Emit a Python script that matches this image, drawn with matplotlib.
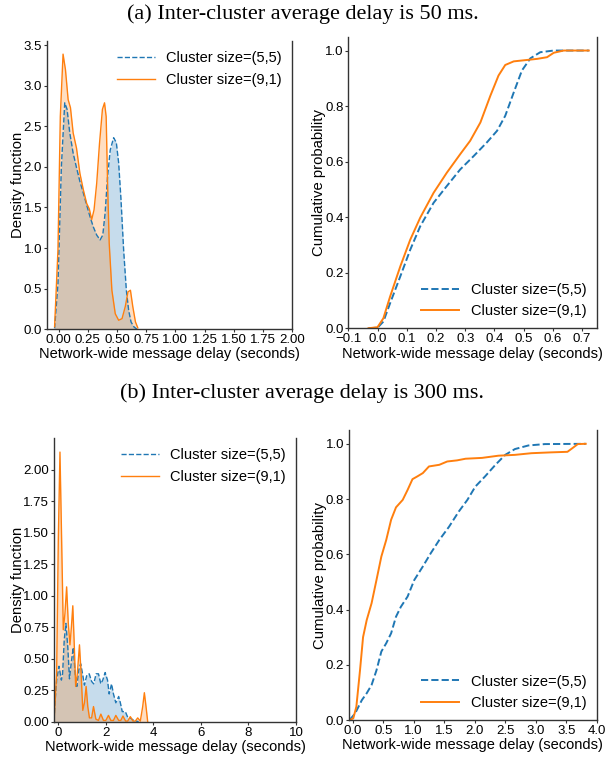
import numpy as np
import matplotlib.pyplot as plt

plt.rcParams['font.family'] = ['Liberation Sans', 'DejaVu Sans']

labels = ['Cluster size=(5,5)', 'Cluster size=(9,1)']

# (a) 50 ms - density
pdf_a_x55 = [-0.035, -0.006, 0.023, 0.052, 0.072, 0.095, 0.124, 0.153, 0.182, 0.211, 0.24,
             0.268, 0.297, 0.326, 0.355, 0.378, 0.398, 0.419, 0.442, 0.471, 0.494, 0.514,
             0.534, 0.557, 0.58, 0.6, 0.62, 0.644, 0.67]
pdf_a_y55 = [0.01, 0.56, 2.0, 2.79, 2.71, 2.42, 2.17, 1.99, 1.82, 1.68, 1.53,
             1.39, 1.26, 1.16, 1.10, 1.16, 1.43, 1.88, 2.21, 2.36, 2.30, 2.05,
             1.60, 0.97, 0.48, 0.23, 0.09, 0.03, 0.0]
pdf_a_x91 = [-0.035, -0.006, 0.014, 0.0375, 0.058, 0.081, 0.101, 0.124, 0.153, 0.182, 0.211,
             0.24, 0.263, 0.283, 0.303, 0.326, 0.35, 0.375, 0.393, 0.407, 0.419, 0.433,
             0.456, 0.485, 0.514, 0.543, 0.571, 0.594, 0.615, 0.635, 0.658, 0.678]
pdf_a_y91 = [0.03, 0.98, 2.62, 3.39, 3.2, 2.83, 2.73, 2.42, 2.23, 1.92, 1.72,
             1.55, 1.48, 1.35, 1.47, 1.80, 2.29, 2.71, 2.79, 2.62, 1.80, 1.06,
             0.48, 0.19, 0.11, 0.13, 0.28, 0.46, 0.48, 0.28, 0.09, 0.017]

# (a) 50 ms - cdf
cdf_a_x55 = [-0.031, 0.0, 0.02, 0.043, 0.078, 0.112, 0.146, 0.192, 0.237, 0.283, 0.329, 0.374,
             0.409, 0.437, 0.466, 0.494, 0.523, 0.557, 0.603, 0.723]
cdf_a_y55 = [0.0, 0.002, 0.024, 0.09, 0.187, 0.283, 0.367, 0.452, 0.512, 0.572, 0.62, 0.669,
             0.711, 0.765, 0.849, 0.928, 0.972, 0.994, 1.0, 1.0]
cdf_a_x91 = [-0.031, 0.0, 0.02, 0.043, 0.078, 0.112, 0.146, 0.192, 0.237, 0.283, 0.317, 0.352,
             0.386, 0.414, 0.437, 0.466, 0.511, 0.546, 0.58, 0.603, 0.637, 0.723]
cdf_a_y91 = [0.0, 0.004, 0.036, 0.114, 0.223, 0.319, 0.398, 0.488, 0.56, 0.627, 0.675, 0.741,
             0.837, 0.91, 0.948, 0.961, 0.966, 0.97, 0.976, 0.992, 1.0, 1.0]

# (b) 300 ms - density
pdf_b_x55 = [-0.18, -0.14, -0.07, 0.03, 0.13, 0.18, 0.25, 0.32, 0.4, 0.47, 0.54, 0.63, 0.71,
             0.78, 0.86, 0.94, 1.02, 1.1, 1.2, 1.3, 1.4, 1.49, 1.59, 1.69, 1.79, 1.87, 1.97,
             2.07, 2.14, 2.24, 2.32, 2.42, 2.54, 2.61, 2.69, 2.82, 2.93, 3.03, 3.17, 3.38]
pdf_b_y55 = [0.01, 0.15, 0.33, 0.44, 0.33, 0.38, 0.65, 0.78, 0.59, 0.34, 0.46, 0.59, 0.38,
             0.28, 0.41, 0.46, 0.38, 0.29, 0.37, 0.38, 0.32, 0.3, 0.38, 0.38, 0.3, 0.33, 0.39,
             0.33, 0.22, 0.3, 0.22, 0.15, 0.2, 0.15, 0.08, 0.08, 0.03, 0.03, 0.01, 0.0]
pdf_b_x91 = [-0.18, -0.07, 0.0, 0.07, 0.14, 0.21, 0.28, 0.35, 0.42, 0.49, 0.55, 0.61, 0.66,
             0.73, 0.80, 0.89, 0.96, 1.03, 1.1, 1.17, 1.24, 1.31, 1.4, 1.48, 1.58, 1.69,
             1.79, 1.9, 2.0, 2.11, 2.21, 2.32, 2.42, 2.54, 2.63, 2.72, 2.83, 2.92, 3.03,
             3.14, 3.24, 3.34, 3.45, 3.55, 3.62, 3.69, 3.76]
pdf_b_y91 = [0.0, 0.38, 1.44, 2.14, 1.44, 0.73, 0.86, 1.07, 0.78, 0.61, 0.75, 0.92, 0.67,
             0.28, 0.38, 0.61, 0.38, 0.09, 0.15, 0.28, 0.12, 0.03, 0.03, 0.12, 0.02, 0.01,
             0.06, 0.01, 0.01, 0.05, 0.01, 0.01, 0.05, 0.01, 0.01, 0.045, 0.005, 0.005, 0.04,
             0.005, 0.005, 0.03, 0.005, 0.12, 0.23, 0.12, 0.0]

# (b) 300 ms - cdf
cdf_b_x55 = [-0.05, 0.04, 0.15, 0.23, 0.31, 0.39, 0.47, 0.55, 0.63, 0.71, 0.79, 0.9, 1.01,
             1.15, 1.28, 1.42, 1.58, 1.74, 1.88, 2.01, 2.17, 2.34, 2.5, 2.66, 2.88, 3.15, 3.82]
cdf_b_y55 = [0.0, 0.024, 0.072, 0.097, 0.127, 0.18, 0.248, 0.278, 0.314, 0.374, 0.41, 0.447,
             0.507, 0.556, 0.604, 0.652, 0.70, 0.755, 0.797, 0.845, 0.882, 0.924, 0.96, 0.981,
             0.994, 0.999, 1.0]
cdf_b_x91 = [-0.05, 0.01, 0.06, 0.12, 0.17, 0.23, 0.31, 0.39, 0.47, 0.55, 0.63, 0.71, 0.82,
             0.9, 0.98, 1.06, 1.15, 1.25, 1.42, 1.55, 1.71, 1.85, 2.12, 2.39, 2.66, 2.93,
             3.25, 3.52, 3.6, 3.69, 3.82]
cdf_b_y91 = [0.0, 0.006, 0.048, 0.18, 0.30, 0.362, 0.423, 0.507, 0.592, 0.652, 0.725, 0.77,
             0.797, 0.833, 0.872, 0.882, 0.894, 0.918, 0.924, 0.936, 0.94, 0.946, 0.949, 0.957,
             0.96, 0.966, 0.969, 0.971, 0.984, 0.999, 1.0]

blue = '#1f77b4'
orange = '#ff7f0e'


def style(ax):
    ax.spines['top'].set_visible(False)
    for s in ['left', 'bottom', 'right']:
        ax.spines[s].set_color('#333333')
        ax.spines[s].set_linewidth(1.0)
    ax.tick_params(length=2, width=0.8, color='#333333', labelsize=9.5, pad=1.5,
                   right=False)


def density(ax, x55, y55, x91, y91):
    ax.fill_between(x55, y55, color=blue, alpha=0.25, lw=0)
    ax.plot(x55, y55, color=blue, ls='--', lw=1.0, label=labels[0])
    ax.fill_between(x91, y91, color=orange, alpha=0.25, lw=0)
    ax.plot(x91, y91, color=orange, lw=1.0, label=labels[1])
    ax.set_ylabel('Density function', fontsize=10.7, labelpad=-1)
    ax.set_xlabel('Network-wide message delay (seconds)', fontsize=10.5, labelpad=1)
    ax.legend(loc='upper right', frameon=False, fontsize=10.5, handlelength=2.6,
              borderaxespad=0.3)
    style(ax)


def cdf(ax, x55, y55, x91, y91):
    ax.plot(x55, y55, color=blue, ls='--', lw=1.4, label=labels[0])
    ax.plot(x91, y91, color=orange, lw=1.4, label=labels[1])
    ax.set_ylabel('Cumulative probability', fontsize=10.7, labelpad=-1)
    ax.set_xlabel('Network-wide message delay (seconds)', fontsize=10.5, labelpad=1)
    ax.set_ylim(0, 1.05)
    ax.set_yticks([0.0, 0.2, 0.4, 0.6, 0.8, 1.0])
    ax.legend(loc='lower right', frameon=False, fontsize=10.5, handlelength=2.6,
              borderaxespad=0.3)
    style(ax)


fig = plt.figure(figsize=(6.05, 7.62), dpi=100)

ax1 = fig.add_axes([0.0777, 0.568, 0.405, 0.378])
density(ax1, pdf_a_x55, pdf_a_y55, pdf_a_x91, pdf_a_y91)
ax1.set_xlim(-0.1, 2.0)
ax1.set_ylim(0, 3.55)
ax1.set_xticks(np.arange(0, 2.01, 0.25))
ax1.set_xticklabels(['%.2f' % v for v in np.arange(0, 2.01, 0.25)])

ax2 = fig.add_axes([0.5757, 0.5692, 0.4106, 0.3827])
cdf(ax2, cdf_a_x55, cdf_a_y55, cdf_a_x91, cdf_a_y91)
ax2.set_xlim(-0.1, 0.75)
ax2.set_xticks(np.arange(-0.1, 0.71, 0.1))

ax3 = fig.add_axes([0.0893, 0.0529, 0.4, 0.372])
density(ax3, pdf_b_x55, pdf_b_y55, pdf_b_x91, pdf_b_y91)
ax3.set_xlim(-0.18, 10)
ax3.set_ylim(0, 2.25)
ax3.set_xticks([0, 2, 4, 6, 8, 10])
ax3.set_yticks(np.arange(0, 2.01, 0.25))
ax3.set_yticklabels(['%.2f' % v for v in np.arange(0, 2.01, 0.25)])

ax4 = fig.add_axes([0.5769, 0.0551, 0.4094, 0.3806])
cdf(ax4, cdf_b_x55, cdf_b_y55, cdf_b_x91, cdf_b_y91)
ax4.set_xlim(-0.06, 4.0)
ax4.set_xticks(np.arange(0, 4.01, 0.5))

fig.text(0.5, 1 - 14 / 762, '(a) Inter-cluster average delay is 50 ms.',
         ha='center', va='center', fontsize=16, family='Liberation Serif')
fig.text(0.5, 1 - 393 / 762, '(b) Inter-cluster average delay is 300 ms.',
         ha='center', va='center', fontsize=16, family='Liberation Serif')

fig.savefig('out.png', dpi=100)
